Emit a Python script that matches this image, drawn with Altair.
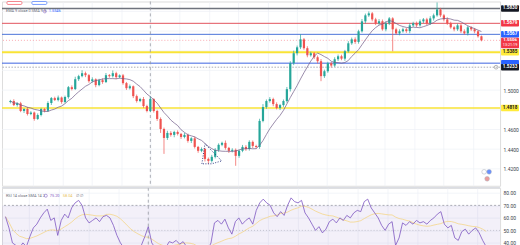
import altair as alt
import pandas as pd

# ---------------- data ----------------
closes = [
    1.4889, 1.4848, 1.4866, 1.4788, 1.4808, 1.4757, 1.4772, 1.4707, 1.4747, 1.4808,
    1.4790, 1.4869, 1.4919, 1.4899, 1.4925, 1.4879, 1.4929, 1.5030, 1.5011, 1.5111,
    1.5142, 1.5172, 1.5152, 1.5091, 1.5110, 1.5051, 1.5101, 1.5082, 1.5152, 1.5142,
    1.5172, 1.5132, 1.5150, 1.5071, 1.5020, 1.5039, 1.4939, 1.4889, 1.4910, 1.4838,
    1.4788, 1.4909, 1.4788, 1.4707, 1.4605, 1.4514, 1.4565, 1.4545, 1.4575, 1.4555,
    1.4524, 1.4545, 1.4484, 1.4510, 1.4423, 1.4383, 1.4402, 1.4301, 1.4281, 1.4322,
    1.4393, 1.4444, 1.4464, 1.4413, 1.4383, 1.4393, 1.4332, 1.4383, 1.4423, 1.4401,
    1.4474, 1.4433, 1.4423, 1.4687, 1.4828, 1.4889, 1.4909, 1.4858, 1.4818, 1.4848,
    1.4889, 1.5010, 1.5274, 1.5375, 1.5435, 1.5516, 1.5426, 1.5354, 1.5375, 1.5334,
    1.5294, 1.5142, 1.5192, 1.5274, 1.5250, 1.5314, 1.5344, 1.5320, 1.5395, 1.5476,
    1.5516, 1.5490, 1.5598, 1.5699, 1.5760, 1.5780, 1.5719, 1.5679, 1.5700, 1.5618,
    1.5679, 1.5729, 1.5618, 1.5577, 1.5598, 1.5618, 1.5600, 1.5658, 1.5679, 1.5658,
    1.5699, 1.5719, 1.5679, 1.5729, 1.5760, 1.5820, 1.5760, 1.5719, 1.5679, 1.5638,
    1.5618, 1.5658, 1.5598, 1.5577, 1.5638, 1.5618, 1.5598, 1.5547, 1.5506,
]
first_open = 1.4879
upper_wick_pips = [
    12, 18, 10, 15, 8, 20, 14, 10, 16, 12,
    9, 18, 11, 14, 20, 10, 15, 12, 18, 25,
    14, 30, 16, 12, 20, 10, 14, 18, 22, 12,
    28, 15, 10, 14, 12, 18, 8, 16, 12, 20,
    14, 30, 10, 12, 16, 14, 22, 18, 12, 16,
    10, 20, 14, 12, 18, 10, 16, 12, 14, 20,
    18, 15, 12, 24, 10, 16, 14, 12, 20, 18,
    16, 14, 12, 22, 30, 16, 20, 14, 18, 12,
    16, 22, 20, 26, 18, 51, 14, 20, 16, 12,
    18, 22, 16, 14, 12, 20, 18, 16, 14, 22,
    18, 20, 16, 24, 18, 20, 14, 16, 22, 18,
    20, 14, 12, 16, 20, 18, 14, 22, 16, 18,
    20, 14, 16, 22, 18, 71, 16, 14, 20, 16,
    12, 18, 14, 20, 16, 12, 14, 10, 8,
]
lower_wick_pips = [
    14, 10, 16, 12, 20, 15, 12, 18, 10, 14,
    16, 12, 20, 10, 14, 18, 12, 16, 14, 10,
    18, 12, 20, 16, 14, 22, 12, 18, 10, 16,
    14, 20, 12, 16, 18, 14, 20, 16, 12, 18,
    14, 12, 16, 20, 40, 162, 20, 18, 24, 16,
    20, 14, 18, 22, 16, 20, 14, 26, 30, 18,
    16, 20, 14, 18, 22, 16, 101, 20, 14, 18,
    16, 22, 18, 20, 14, 18, 16, 22, 14, 20,
    18, 16, 24, 20, 22, 18, 16, 20, 14, 18,
    22, 51, 18, 16, 20, 14, 18, 16, 22, 14,
    16, 20, 18, 14, 22, 16, 20, 18, 16, 14,
    20, 18, 223, 16, 20, 14, 18, 22, 16, 20,
    14, 18, 20, 16, 22, 14, 18, 20, 16, 14,
    20, 16, 18, 14, 22, 16, 20, 14, 10,
]
rsi_values = [
    61, 52, 40, 38, 36, 40, 37, 45, 52, 55,
    60, 64, 67, 58, 60, 46, 58, 63, 60, 68,
    72, 74, 70, 60, 56, 58, 60, 57, 61, 62,
    60, 54, 46, 40, 36, 33, 32, 30, 33, 38,
    45, 53, 40, 36, 34, 38, 36, 41, 40, 42,
    39, 41, 37, 34, 36, 33, 35, 38, 34, 40,
    56, 58, 55, 59, 52, 47, 57, 60, 55, 58,
    60, 55, 66, 72, 75, 72, 70, 64, 61, 65,
    62, 70, 76, 73, 72, 74, 64, 60, 55, 50,
    53, 48, 51, 57, 59, 56, 60, 58, 62, 60,
    64, 66, 65, 73, 75, 68, 64, 60, 54, 50,
    55, 57, 38, 44, 56, 54, 57, 55, 58, 56,
    57, 55, 58, 60, 63, 65, 55, 52, 54, 44,
    42, 49, 51, 47, 50, 52, 48, 42, 37,
]

price_grid = [1.42, 1.44, 1.46, 1.48, 1.50, 1.52, 1.54, 1.56, 1.58]
price_labels = [1.42, 1.44, 1.46, 1.50]          # the others sit under coloured tags
rsi_ticks = [40, 50, 60, 70, 80]
grid_idx = [6.7, 15.3, 23.9, 32.5, 41.0, 49.6, 58.2, 66.8, 75.4, 84.0,
            92.6, 101.1, 109.7, 118.3, 126.9, 135.5]

level_prices = [1.5830, 1.5679, 1.5567, 1.5385, 1.5274, 1.4818]
level_colors = ["#6f737d", "#e2545e", "#4a73d9", "#f9e336", "#3d63e0", "#f9e336"]
level_widths = [1.6, 1.0, 1.0, 1.8, 1.0, 1.4]

label_prices = [1.5830, 1.5679, 1.5567, 1.5385, 1.5274, 1.5233, 1.4818]
label_texts = ["1.5830", "1.5679", "1.5567", "1.5385", "", "1.5233", "1.4818"]
label_fills = ["#131722", "#f23645", "#2962ff", "#ffeb3b", "#2962ff", "#131722", "#ffeb3b"]
label_inks = ["#ffffff", "#ffffff", "#ffffff", "#131722", "#ffffff", "#ffffff", "#131722"]

current_price = 1.5506
countdown = "13:21:19"
crosshair_idx = 41
crosshair_price = 1.5233

tri_idx = [56.1, 57.0, 61.9, 59.0, 56.1]
tri_price = [1.4251, 1.4454, 1.4281, 1.4251, 1.4251]

# ---------------- tables ----------------
opens = [first_open] + closes[:-1]
rows = []
for i, (o, c, uw, lw) in enumerate(zip(opens, closes, upper_wick_pips, lower_wick_pips)):
    rows.append({
        "idx": i, "open": o, "close": c,
        "high": max(o, c) + uw / 10000.0,
        "low": min(o, c) - lw / 10000.0,
        "col": "#26a69a" if c >= o else "#ef5350",
    })
candles = pd.DataFrame(rows)
rsi_df = pd.DataFrame({"idx": list(range(len(rsi_values))), "rsi": rsi_values})
levels = pd.DataFrame({"price": level_prices, "col": level_colors, "w": level_widths})
boxes = pd.DataFrame({"price": label_prices, "txt": label_texts,
                      "fill": label_fills, "ink": label_inks})
tri = pd.DataFrame({"idx": tri_idx, "price": tri_price, "o": list(range(len(tri_idx)))})

FONT = "Roboto"
W = 500
H_MAIN = 185
H_RSI = 60

xscale = alt.Scale(domain=[-1, 142], nice=False, zero=False)
yscale = alt.Scale(domain=[1.4028, 1.5901], nice=False, zero=False)
rscale = alt.Scale(domain=[36.3, 84.1], nice=False, zero=False)

xaxis = alt.Axis(values=grid_idx, labels=False, ticks=False, domain=False,
                 grid=True, gridColor="#eef1f7", gridWidth=0.7, title=None)
yaxis = alt.Axis(orient="right", values=price_labels, format=".4f", labelFontSize=5,
                 labelColor="#3b3f4a", labelFont=FONT, tickSize=0, domain=False,
                 labelPadding=3, grid=False, title=None)
raxis = alt.Axis(orient="right", values=rsi_ticks, format=".2f", labelFontSize=5,
                 labelColor="#3b3f4a", labelFont=FONT, tickSize=0, domain=False,
                 labelPadding=3, grid=True, gridColor="#eef1f7", gridWidth=0.7, title=None)


def X(field):
    return alt.X(field, type="quantitative", scale=xscale, axis=xaxis)


def Y(field):
    return alt.Y(field, type="quantitative", scale=yscale, axis=yaxis)


def R(field):
    return alt.Y(field, type="quantitative", scale=rscale, axis=raxis)


base = alt.Chart(candles)

hgrid = alt.Chart(pd.DataFrame({"price": price_grid})).mark_rule(
    color="#eef1f7", strokeWidth=0.7).encode(y=Y("price"))
lvl = alt.Chart(levels).mark_rule().encode(
    y=Y("price"), color=alt.Color("col:N", scale=None),
    strokeWidth=alt.StrokeWidth("w:Q", scale=None),
)
cur_line = alt.Chart(pd.DataFrame({"price": [current_price]})).mark_rule(
    color="#f23645", strokeDash=[1, 2], strokeWidth=0.7, opacity=0.6
).encode(y=Y("price"))
cross_h = alt.Chart(pd.DataFrame({"price": [crosshair_price]})).mark_rule(
    color="#9598a1", strokeDash=[1.5, 1.5], strokeWidth=0.8
).encode(y=Y("price"))
cross_v = alt.Chart(pd.DataFrame({"idx": [crosshair_idx]})).mark_rule(
    color="#9598a1", strokeDash=[3, 3], strokeWidth=0.8
).encode(x=X("idx"))

wicks = base.mark_rule(strokeWidth=0.7).encode(
    x=X("idx"), y=Y("low"), y2="high", color=alt.Color("col:N", scale=None)
)
bodies = base.mark_bar(size=2.2).encode(
    x=X("idx"), y=Y("open"), y2="close", color=alt.Color("col:N", scale=None)
)
ma = base.transform_window(
    ma="mean(close)", frame=[-8, 0], sort=[{"field": "idx"}]
).mark_line(color="#6d5a86", strokeWidth=0.7).encode(x=X("idx"), y=Y("ma:Q"))

triangle = alt.Chart(tri).mark_line(
    color="#1e2a78", strokeDash=[1, 1.5], strokeWidth=0.9
).encode(x=X("idx"), y=Y("price"), order="o:Q")

box_rects = alt.Chart(boxes).transform_calculate(
    top="datum.price + 0.0033", bot="datum.price - 0.0033"
).mark_rect(cornerRadius=1).encode(
    x=alt.value(501), x2=alt.value(519), y=Y("top:Q"), y2="bot:Q",
    color=alt.Color("fill:N", scale=None),
)
box_text = alt.Chart(boxes).mark_text(fontSize=4.6, font=FONT, fontWeight="bold",
                                      align="center", baseline="middle").encode(
    x=alt.value(510), y=Y("price"), text="txt:N", color=alt.Color("ink:N", scale=None)
)
cur_df = pd.DataFrame({"price": [current_price], "txt": [f"{current_price:.4f}"],
                       "sub": [countdown]})
cur_box = alt.Chart(cur_df).transform_calculate(
    top="datum.price + 0.0026", bot="datum.price - 0.0080"
).mark_rect(color="#f23645", cornerRadius=1).encode(
    x=alt.value(501), x2=alt.value(519), y=Y("top:Q"), y2="bot:Q"
)
cur_t1 = alt.Chart(cur_df).mark_text(fontSize=4.4, font=FONT, fontWeight="bold",
                                     color="white", baseline="middle").encode(
    x=alt.value(510), y=Y("price"), text="txt:N")
cur_t2 = alt.Chart(cur_df).transform_calculate(p2="datum.price - 0.0052").mark_text(
    fontSize=3.8, font=FONT, color="white", baseline="middle").encode(
    x=alt.value(510), y=Y("p2:Q"), text="sub:N")
cross_icon = alt.Chart(pd.DataFrame({"price": [crosshair_price]})).mark_point(
    shape="circle", size=14, color="#555", strokeWidth=0.6, filled=False
).encode(x=alt.value(496), y=Y("price"))

legend1 = alt.Chart(pd.DataFrame({
    "t": ["EMA 9 close 0 SMA 9 5", "1.5546"], "x": [4, 47],
    "c": ["#6a6d78", "#2962ff"]})).mark_text(
    fontSize=3.9, font=FONT, align="left", baseline="middle").encode(
    x=alt.X("x:Q", scale=None), y=alt.value(10), text="t:N",
    color=alt.Color("c:N", scale=None))
legend1c = alt.Chart(pd.DataFrame({"t": [1]})).mark_point(
    shape="circle", size=9, color="#7e57c2", strokeWidth=0.8).encode(
    x=alt.value(43), y=alt.value(10))
btns = alt.Chart(pd.DataFrame({"x": [5, 30], "x2": [20, 45], "c": ["#f23645", "#2962ff"]})).mark_rect(
    fill="white", strokeWidth=0.6, cornerRadius=1).encode(
    x=alt.X("x:Q", scale=None), x2="x2:Q", y=alt.value(0), y2=alt.value(3),
    stroke=alt.Stroke("c:N", scale=None))
flags = alt.Chart(pd.DataFrame({"x": [484, 489, 487], "y": [171, 171, 178],
                                "c": ["#ffffff", "#2962ff", "#e57373"]})).mark_point(
    shape="circle", size=22, filled=True, stroke="#8a8fa0", strokeWidth=0.5).encode(
    x=alt.X("x:Q", scale=None), y=alt.Y("y:Q", scale=None),
    color=alt.Color("c:N", scale=None))

main = alt.layer(
    hgrid, lvl, cur_line, cross_h, cross_v, wicks, bodies, ma, triangle,
    box_rects, box_text, cur_box, cur_t1, cur_t2, cross_icon,
    legend1, legend1c, btns, flags,
).properties(width=W, height=H_MAIN)

# ---------------- RSI panel ----------------
band = alt.Chart(pd.DataFrame({"a": [70], "b": [30]})).mark_rect(
    color="#7e57c2", opacity=0.09, clip=True).encode(
    x=alt.value(0), x2=alt.value(W), y=R("a:Q"), y2="b:Q")
rsi_rules = alt.Chart(pd.DataFrame({"v": [70, 30]})).mark_rule(
    color="#787b86", strokeDash=[2, 2], strokeWidth=0.6, clip=True).encode(y=R("v:Q"))
mid_rule = alt.Chart(pd.DataFrame({"v": [50]})).mark_rule(
    color="#787b86", strokeDash=[1, 2], strokeWidth=0.6, opacity=0.6).encode(y=R("v:Q"))
rsi_base = alt.Chart(rsi_df)
rsi_ma = rsi_base.transform_window(
    m="mean(rsi)", frame=[-13, 0], sort=[{"field": "idx"}]
).mark_line(color="#f5d27a", strokeWidth=1, opacity=0.7, clip=True).encode(
    x=X("idx"), y=R("m:Q"))
rsi_line = rsi_base.mark_line(color="#7e57c2", strokeWidth=0.8, clip=True).encode(
    x=X("idx"), y=R("rsi:Q"))
rsi_cross = alt.Chart(pd.DataFrame({"idx": [crosshair_idx]})).mark_rule(
    color="#9598a1", strokeDash=[3, 3], strokeWidth=0.8).encode(x=X("idx"))
sep = alt.Chart(pd.DataFrame({"a": [0]})).mark_rule(color="#d1d4dc", strokeWidth=1).encode(
    x=alt.value(0), x2=alt.value(W), y=alt.value(0))
rsi_leg = alt.Chart(pd.DataFrame({
    "t": ["RSI 14 close SMA 14 2", "75.20", "58.04", "\u2205 \u2205"],
    "x": [4, 48, 61, 74], "c": ["#6a6d78", "#7e57c2", "#e8c35a", "#6a6d78"]})).mark_text(
    fontSize=3.9, font=FONT, align="left", baseline="middle").encode(
    x=alt.X("x:Q", scale=None), y=alt.value(8), text="t:N",
    color=alt.Color("c:N", scale=None))
rsi_icon = alt.Chart(pd.DataFrame({"a": [0]})).mark_point(
    shape="circle", size=9, color="#7e57c2", strokeWidth=0.8).encode(
    x=alt.value(44), y=alt.value(8))

rsi_panel = alt.layer(
    band, rsi_rules, mid_rule, rsi_ma, rsi_line, rsi_cross, sep, rsi_leg, rsi_icon
).properties(width=W, height=H_RSI)

chart = alt.vconcat(main, rsi_panel, spacing=0).resolve_scale(
    x="independent", y="independent"
).properties(padding=0).configure_view(stroke=None).configure(background="white")

chart.save("out.html", embed_options={"renderer": "svg", "actions": False})
